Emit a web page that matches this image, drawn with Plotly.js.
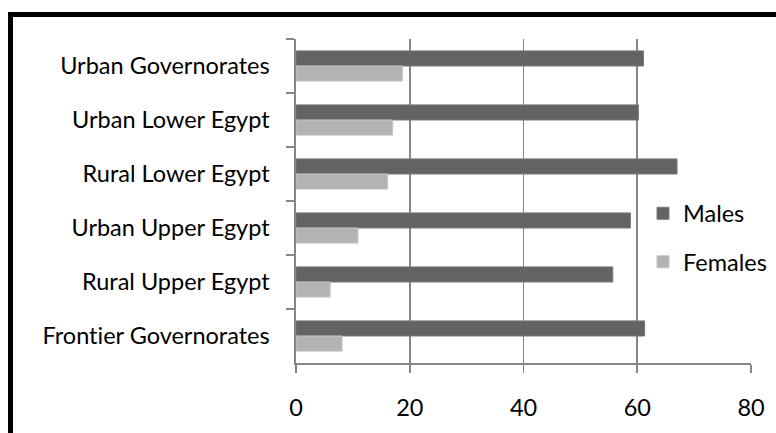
<!DOCTYPE html>
<html>
<head>
<meta charset="utf-8">
<script src="https://cdn.plot.ly/plotly-3.0.1.min.js"></script>
<style>
html,body{margin:0;padding:0;background:#fff;}
#chart{width:776px;height:433px;}
#chart text{font-variant-ligatures:none;font-feature-settings:"liga" 0;}
</style>
</head>
<body>
<div id="chart"></div>
<script>
const categories = ["Urban Governorates", "Urban Lower Egypt", "Rural Lower Egypt", "Urban Upper Egypt", "Rural Upper Egypt", "Frontier Governorates"];
const males = [61.1, 60.2, 67.0, 58.8, 55.7, 61.3];
const females = [18.7, 17.0, 16.1, 10.9, 6.0, 8.1];
const xTicks = [0, 20, 40, 60, 80];

const FONT = "Lato, 'Open Sans', sans-serif";
const FS = 23.5;
const L = 296, R = 25, T = 39, B = 70;
const W = 776, H = 433;
const pw = W - L - R, ph = H - T - B;
function px2x(p){ return (p - L) / pw; }
function px2y(p){ return 1 - (p - T) / ph; }

const traces = [
  {type:'bar', orientation:'h', name:'Males', y:categories, x:males,
   marker:{color:'#636363', line:{color:'#7a7a7a', width:1}}, legendgroup:'m'},
  {type:'bar', orientation:'h', name:'Females', y:categories, x:females,
   marker:{color:'#b3b3b3', line:{color:'#c4c4c4', width:1}}, legendgroup:'f'}
];

const layout = {
  width:W, height:H,
  margin:{l:L, r:R, t:T, b:B, pad:0, autoexpand:false},
  paper_bgcolor:'#fff', plot_bgcolor:'#fff',
  font:{family:FONT, size:FS, color:'#000'},
  barmode:'group', bargap:0.44, bargroupgap:0,
  showlegend:true,
  legend:{x:px2x(643), xanchor:'left', y:px2y(238), yanchor:'middle',
          font:{family:FONT, size:FS, color:'#000'}, bgcolor:'rgba(0,0,0,0)',
          tracegroupgap:15, traceorder:'grouped'},
  xaxis:{range:[0,80], tickvals:xTicks, ticktext:xTicks.map(String),
         showgrid:true, gridcolor:'#868686', gridwidth:1.6,
         showline:true, linecolor:'#868686', linewidth:1.6,
         ticks:'outside', ticklen:8, tickwidth:1.6, tickcolor:'#868686',
         zeroline:false, ticklabelstandoff:15, fixedrange:true, automargin:false,
         tickfont:{family:FONT, size:FS, color:'#000'}},
  yaxis:{type:'category', autorange:'reversed', tickson:'boundaries',
         showgrid:false, showline:true, linecolor:'#868686', linewidth:1.6,
         ticks:'outside', ticklen:8, tickwidth:1.6, tickcolor:'#868686',
         ticklabelstandoff:20, fixedrange:true, automargin:false,
         tickfont:{family:FONT, size:FS, color:'#000'}},
  shapes:[
    {type:'line', xref:'paper', yref:'paper', x0:px2x(8), x1:px2x(780), y0:px2y(14.5), y1:px2y(14.5),
     line:{color:'#000', width:5}},
    {type:'line', xref:'paper', yref:'paper', x0:px2x(10.5), x1:px2x(10.5), y0:px2y(12), y1:px2y(440),
     line:{color:'#000', width:5}}
  ]
};

Plotly.newPlot('chart', traces, layout, {staticPlot:true, displayModeBar:false});
</script>
</body>
</html>
